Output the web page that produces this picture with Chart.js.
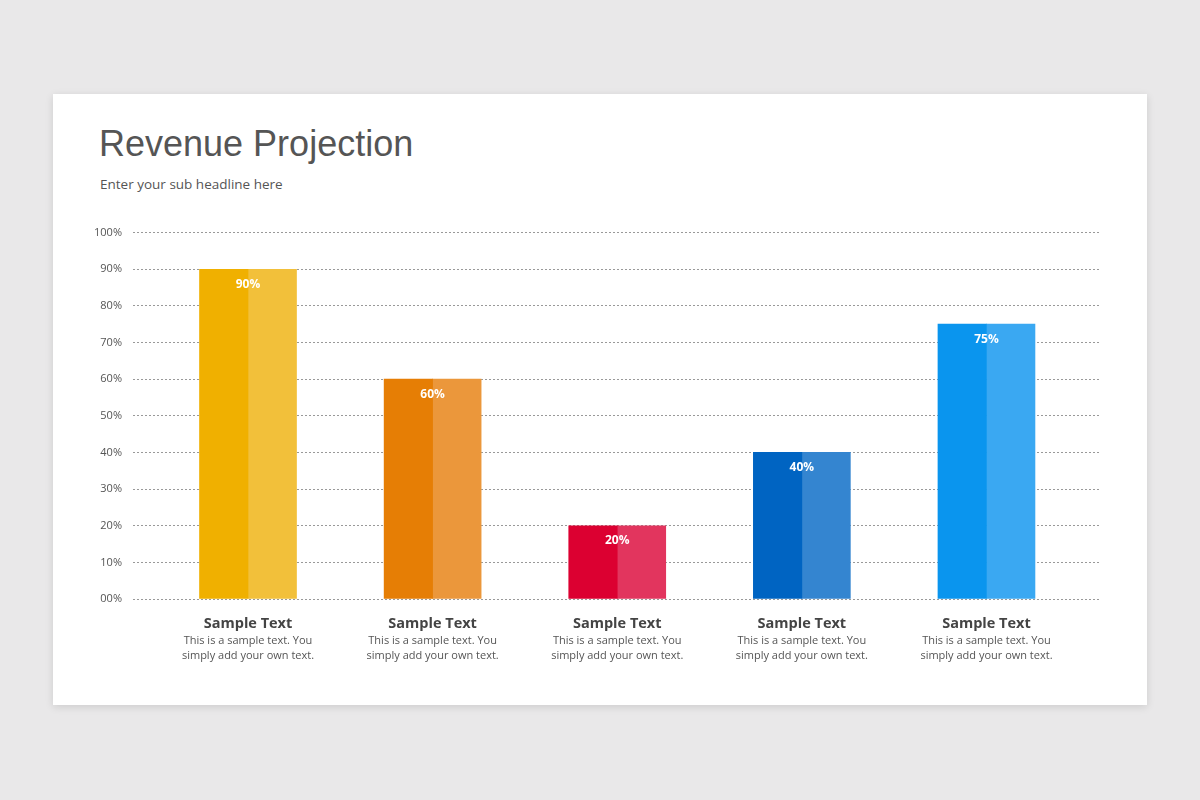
<!DOCTYPE html>
<html>
<head>
<meta charset="utf-8">
<script src="https://cdn.jsdelivr.net/npm/chart.js@4"></script>
<style>
  html, body { margin: 0; padding: 0; }
  body { width: 1200px; height: 800px; background: #e9e8e9; position: relative; font-family: "Open Sans", "Noto Sans", sans-serif; }
  #card { position: absolute; left: 53px; top: 94px; width: 1094px; height: 611px; background: #fff; box-shadow: 0 2px 8px rgba(0,0,0,0.12); }
  h1 { position: absolute; left: 46px; top: 29px; margin: 0; font-weight: 400; font-size: 36px; color: #555; font-family: "Liberation Sans", Arial, sans-serif; }
  .sub { position: absolute; left: 47px; top: 81px; font-size: 13.5px; color: #555; }
  #wrap { position: absolute; left: 0; top: 121px; width: 1094px; height: 480px; }
</style>
</head>
<body>
<div id="card">
  <h1>Revenue Projection</h1>
  <div class="sub">Enter your sub headline here</div>
  <div id="wrap"><canvas id="myChart" width="1094" height="480"></canvas></div>
</div>
<script>
const values = [90, 60, 20, 40, 75]
const darkColors = ["#f0b000", "#e67e05", "#dc0031", "#0064c2", "#0a95ee"]
const lightColors = ["#f2c03a", "#eb973b", "#e2355e", "#3485d0", "#3aa8f2"]
const titles = ["Sample Text", "Sample Text", "Sample Text", "Sample Text", "Sample Text"]
const line1 = "This is a sample text. You"
const line2 = "simply add your own text."

const points = values.map((v, i) => ({x: i, y: v}))

const labelPlugin = {
    id: "labels",
    afterDatasetsDraw(chart) {
        const ctx = chart.ctx
        const meta = chart.getDatasetMeta(0)
        const yBase = chart.scales.y.getPixelForValue(0)
        ctx.save()
        ctx.textAlign = "center"
        meta.data.forEach((bar, i) => {
            const cx = bar.x + bar.width / 2
            ctx.fillStyle = "#fff"
            ctx.font = "bold 12px 'Open Sans'"
            ctx.textBaseline = "middle"
            ctx.fillText(values[i] + "%", cx, bar.y + 15)
            ctx.fillStyle = "#444"
            ctx.font = "bold 14.5px 'Open Sans'"
            ctx.fillText(titles[i], cx, yBase + 25)
            ctx.fillStyle = "#555"
            ctx.font = "11px 'Open Sans'"
            ctx.fillText(line1, cx, yBase + 42)
            ctx.fillText(line2, cx, yBase + 57)
        })
        ctx.restore()
    }
}

new Chart("myChart", {
    type: "bar",
    data: {
        datasets: [
            {data: points, backgroundColor: darkColors, barThickness: 48.5},
            {data: points, backgroundColor: lightColors, barThickness: 48.5}
        ]
    },
    options: {
        responsive: false,
        animation: false,
        layout: {padding: {left: 0, right: 47, top: 17, bottom: 96}},
        plugins: {legend: {display: false}, tooltip: {enabled: false}},
        scales: {
            x: {
                type: "linear", min: -0.623, max: 4.615, offset: false, display: false,
                grid: {display: false}
            },
            y: {
                min: 0, max: 100,
                afterFit: (s) => { s.width = 80 },
                border: {display: false, dash: [2, 2]},
                grid: {color: "#999", drawTicks: false, lineWidth: 1},
                ticks: {
                    stepSize: 10, padding: 11, color: "#555",
                    font: {size: 11, family: "Open Sans"},
                    callback: (v) => (v < 10 ? "0" + v : v) + "%"
                }
            }
        }
    },
    plugins: [labelPlugin]
})
</script>
</body>
</html>
